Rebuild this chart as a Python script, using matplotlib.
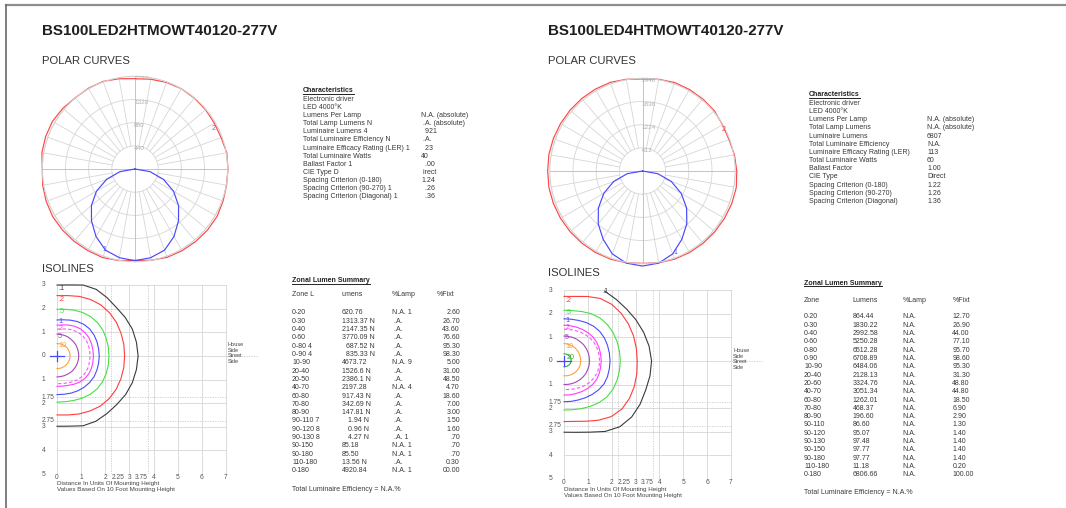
import numpy as np
import matplotlib
matplotlib.use("Agg")
import matplotlib.pyplot as plt
from matplotlib.lines import Line2D
from matplotlib.transforms import ScaledTranslation

plt.rcParams['font.family'] = ['Liberation Sans', 'DejaVu Sans']

W, H = 1066, 508

# ---------------------------------------------------------------- data
model_names = ["BS100LED2HTMOWT40120-277V", "BS100LED4HTMOWT40120-277V"]

ring_values_A = [440, 880, 1320, 1760]
ring_values_B = [612, 1224, 1836, 2448]

# candela, angle measured from nadir (0 = down, 90 = right, 180 = up)
polar_angles = [0, 10, 20, 30, 40, 50, 60, 70, 80, 90, 100, 110, 120, 130, 140, 150, 160, 170,
                180, 190, 200, 210, 220, 230, 240, 250, 260, 270, 280, 290, 300, 310, 320, 330, 340, 350]
plane2_cd_A = [1735, 1760, 1785, 1790, 1795, 1800, 1800, 1780, 1765, 1765, 1770, 1740,
               1740, 1750, 1755, 1760, 1750, 1730, 1715, 1740, 1770, 1770, 1765, 1790,
               1810, 1805, 1795, 1760, 1780, 1795, 1805, 1800, 1795, 1790, 1790, 1765]
plane2_cd_B = [2440, 2460, 2478, 2485, 2490, 2494, 2500, 2510, 2515, 2490, 2465, 2430,
               2440, 2477, 2480, 2484, 2486, 2460, 2430, 2460, 2490, 2495, 2498, 2498,
               2500, 2505, 2510, 2505, 2510, 2505, 2500, 2494, 2490, 2485, 2478, 2460]
nadir_angles = [0, 10, 20, 30, 40, 50, 60, 70, 80, 90]
plane1_cd_A = [1740, 1710, 1640, 1480, 1285, 1080, 845, 575, 290, 0]
plane1_cd_B = [2510, 2470, 2330, 2080, 1820, 1520, 1180, 810, 410, 0]

char_labels_A = ["Electronic driver", "LED 4000\u00b0K", "Lumens Per Lamp", "Total Lamp Lumens N",
                 "Luminaire Lumens 4", "Total Luminaire Efficiency N",
                 "Luminaire Efficacy Rating (LER) 1", "Total Luminaire Watts", "Ballast Factor 1",
                 "CIE Type D", "Spacing Criterion (0-180)", "Spacing Criterion (90-270) 1",
                 "Spacing Criterion (Diagonal) 1"]
char_values_A = ["", "", "N.A. (absolute)", " .A. (absolute)", "  921", " .A.", "  23", "40",
                 "  .00", " irect", "1.24", "  .26", "  .36"]
char_labels_B = ["Electronic driver", "LED 4000\u00b0K", "Lumens Per Lamp", "Total Lamp Lumens",
                 "Luminaire Lumens", "Total Luminaire Efficiency",
                 "Luminaire Efficacy Rating (LER)", "Total Luminaire Watts", "Ballast Factor",
                 "CIE Type", "Spacing Criterion (0-180)", "Spacing Criterion (90-270)",
                 "Spacing Criterion (Diagonal)"]
char_values_B = ["", "", "N.A. (absolute)", "N.A. (absolute)", "6807", "N.A.", "113", "60",
                 "1.00", "Direct", "1.22", "1.26", "1.36"]

zonal_header_A = ["Zone L", "umens", "%Lamp", "%Fixt"]
zonal_zone_A = ["0-20", "0-30", "0-40", "0-60", "0-80 4", "0-90 4", "10-90", "20-40", "20-50",
                "40-70", "60-80", "70-80", "80-90", "90-110 7", "90-120 8", "90-130 8", "90-150",
                "90-180", "110-180", "0-180"]
zonal_lumens_A = ["620.76", "1313.37 N", "2147.35 N", "3770.09 N", "  687.52 N", "  835.33 N",
                  "4673.72", "1526.6 N", "2386.1 N", "2197.28", "917.43 N", "342.69 N",
                  "147.81 N", "   1.94 N", "   0.96 N", "   4.27 N", "85.18", "85.50",
                  "13.56 N", "4920.84"]
zonal_lamp_A = ["N.A. 1", " .A.", " .A.", " .A.", " .A.", " .A.", "N.A. 9", " .A.", " .A.",
                "N.A. 4", " .A.", " .A.", " .A.", " .A.", " .A.", " .A. 1", "N.A. 1", "N.A. 1",
                " .A.", "N.A. 1"]
zonal_fixt_A = ["2.60", "26.70", "43.60", "76.60", "95.30", "98.30", "5.00", "31.00", "48.50",
                "4.70", "18.60", "7.00", "3.00", "1.50", "1.60", ".70", ".70", ".70", "0.30",
                "00.00"]

zonal_header_B = ["Zone", "Lumens", "%Lamp", "%Fixt"]
zonal_zone_B = ["0-20", "0-30", "0-40", "0-60", "0-80", "0-90", "10-90", "20-40", "20-60",
                "40-70", "60-80", "70-80", "80-90", "90-110", "90-120", "90-130", "90-150",
                "90-180", "110-180", "0-180"]
zonal_lumens_B = ["864.44", "1830.22", "2992.58", "5250.28", "6512.28", "6708.89", "6484.06",
                  "2128.13", "3324.76", "3051.34", "1262.01", "468.37", "196.60", "86.60",
                  "95.07", "97.48", "97.77", "97.77", "11.18", "6806.66"]
zonal_lamp_B = ["N.A."] * 20
zonal_fixt_B = ["12.70", "26.90", "44.00", "77.10", "95.70", "98.60", "95.30", "31.30", "48.80",
                "44.80", "18.50", "6.90", "2.90", "1.30", "1.40", "1.40", "1.40", "1.40", "0.20",
                "100.00"]

# isofootcandle contours: radius (mounting heights) at each direction (deg, 90 = house side)
iso_angles = [90, 80, 70, 60, 50, 40, 30, 20, 10, 0, -10, -20, -30, -40, -50, -60, -70, -80, -90]
iso_levels_A = [".1", ".2", ".5", "1", "2", "", "5", "10"]
iso_radii_A = [
    [3.00, 3.05, 3.19, 3.25, 3.22, 3.20, 3.26, 3.32, 3.34, 3.36, 3.34, 3.32, 3.28, 3.22, 3.20, 3.20, 3.15, 3.02, 2.98],
    [2.55, 2.59, 2.68, 2.76, 2.82, 2.84, 2.84, 2.82, 2.81, 2.80, 2.81, 2.82, 2.83, 2.82, 2.78, 2.70, 2.62, 2.54, 2.50],
    [1.97, 2.00, 2.06, 2.12, 2.17, 2.19, 2.19, 2.17, 2.16, 2.15, 2.16, 2.17, 2.18, 2.17, 2.13, 2.07, 2.01, 1.97, 1.96],
    [1.52, 1.55, 1.61, 1.68, 1.74, 1.77, 1.77, 1.76, 1.75, 1.75, 1.75, 1.76, 1.77, 1.76, 1.74, 1.71, 1.68, 1.65, 1.64],
    [1.30, 1.33, 1.39, 1.45, 1.50, 1.52, 1.53, 1.52, 1.51, 1.51, 1.51, 1.52, 1.52, 1.50, 1.45, 1.39, 1.33, 1.30, 1.29],
    [1.13, 1.16, 1.21, 1.27, 1.32, 1.36, 1.38, 1.38, 1.37, 1.37, 1.37, 1.38, 1.38, 1.36, 1.32, 1.27, 1.22, 1.19, 1.18],
    [0.92, 0.92, 0.92, 0.92, 0.91, 0.91, 0.91, 0.90, 0.90, 0.90, 0.90, 0.90, 0.90, 0.90, 0.90, 0.89, 0.89, 0.89, 0.89],
    [0.52, 0.52, 0.53, 0.53, 0.53, 0.54, 0.54, 0.54, 0.54, 0.54, 0.54, 0.54, 0.54, 0.54, 0.54, 0.54, 0.54, 0.54, 0.54],
]
iso_levels_B = [".1", ".2", ".5", "1", "2", "", "5", "10", "20"]
nan = float("nan")
iso_radii_B = [
    [nan, nan, nan, 3.41, 3.40, 3.42, 3.48, 3.55, 3.62, 3.67, 3.66, 3.64, 3.68, 3.70, 3.64, 3.45, 3.21, 3.07, 3.02],
    [2.73, 2.77, 2.90, 3.05, 3.12, 3.13, 3.12, 3.10, 3.08, 3.07, 3.10, 3.14, 3.17, 3.17, 3.08, 2.90, 2.72, 2.60, 2.57],
    [2.14, 2.16, 2.22, 2.30, 2.36, 2.38, 2.38, 2.37, 2.36, 2.36, 2.36, 2.37, 2.38, 2.36, 2.30, 2.22, 2.15, 2.10, 2.08],
    [1.78, 1.79, 1.82, 1.87, 1.92, 1.95, 1.95, 1.94, 1.93, 1.93, 1.93, 1.94, 1.94, 1.90, 1.85, 1.80, 1.76, 1.74, 1.73],
    [1.51, 1.51, 1.52, 1.54, 1.56, 1.58, 1.58, 1.57, 1.56, 1.56, 1.56, 1.57, 1.58, 1.56, 1.53, 1.50, 1.47, 1.46, 1.45],
    [1.34, 1.35, 1.37, 1.40, 1.43, 1.46, 1.48, 1.49, 1.49, 1.49, 1.49, 1.48, 1.45, 1.41, 1.36, 1.31, 1.26, 1.23, 1.21],
    [1.05, 1.05, 1.06, 1.06, 1.06, 1.07, 1.07, 1.07, 1.07, 1.07, 1.07, 1.06, 1.06, 1.05, 1.04, 1.03, 1.02, 1.01, 1.00],
    [0.73, 0.73, 0.72, 0.72, 0.72, 0.71, 0.71, 0.70, 0.70, 0.70, 0.70, 0.70, 0.69, 0.68, 0.67, 0.66, 0.65, 0.64, 0.63],
    [0.30, 0.30, 0.30, 0.30, 0.30, 0.30, 0.30, 0.30, 0.30, 0.30, 0.29, 0.29, 0.28, 0.27, 0.26, 0.26, 0.25, 0.25, 0.25],
]

x_ticks = [0, 1, 2, 2.25, 3, 3.75, 4, 5, 6, 7]
x_tick_labels = ["0", "1", "2", "2.25", "3", "3.75", "4", "5", "6", "7"]
y_ticks = [3, 2, 1, 0, -1, -1.75, -2, -2.75, -3, -4, -5]
y_tick_labels = ["3", "2", "1", "0", "1", "1.75", "2", "2.75", "3", "4", "5"]

# ---------------------------------------------------------------- styles
ISO_COLORS_A = ["#3a3a3a", "#ff3c3c", "#44e044", "#4b4bff", "#ff3cff", "#ff50ff", "#a44ab4", "#ffa040"]
ISO_COLORS_B = ISO_COLORS_A + ["#2fb02f"]
ISO_STYLES_B = ["-", "-", "-", "-", "-", (0, (3, 2)), "-", "-", "-"]
ISO_STYLES_A = ISO_STYLES_B[:8]
RED = "#ff4545"
BLUE = "#4848ff"
GRID = "#d6d6d6"
TXT = "#383838"

fig = plt.figure(figsize=(W / 100, H / 100), dpi=100)
fig.patch.set_facecolor("white")


def px_box(l, t, r, b):
    return [l / W, 1 - b / H, (r - l) / W, (b - t) / H]


def ftext(x, y, s, size=5.0, color=TXT, ha="left", va="center", **kw):
    return fig.text(x / W, 1 - y / H, s, fontsize=size, color=color, ha=ha, va=va, **kw)


underlined = []

# page frame
fig.add_artist(Line2D([6 / W, 1], [1 - 4.5 / H] * 2, color="#8e8e8e", lw=1.6))
fig.add_artist(Line2D([6 / W] * 2, [0, 1 - 4.5 / H], color="#6a6a6a", lw=1.2))


def draw_polar(cx, cy, rad, rings, plane2, plane1, lbl2, lbl1):
    ax = fig.add_axes(px_box(cx - rad, cy - rad, cx + rad, cy + rad), projection="polar")
    ax.set_theta_zero_location("S")
    ax.set_theta_direction(1)
    rmax = rings[-1]
    ax.set_ylim(0, rmax)
    ax.set_xticks([])
    ax.set_yticks([])
    ax.grid(False)
    ax.spines["polar"].set_color("#d0d0d0")
    ax.spines["polar"].set_linewidth(0.8)
    full = np.linspace(0, 2 * np.pi, 721)
    for r in rings[:-1]:
        ax.plot(full, np.full_like(full, r), color=GRID, lw=0.6)
    for d in range(0, 360, 10):
        t = np.deg2rad(d)
        if d % 90 == 0:
            ax.plot([t, t], [0, rmax], color="#c4c4c4", lw=0.7)
        else:
            ax.plot([t, t], [rings[0], rmax], color=GRID, lw=0.6)
    off = ScaledTranslation(-1 / 100, -2.6 / 100, fig.dpi_scale_trans)
    for r in rings:
        ax.text(np.pi, r, str(r), transform=ax.transData + off, fontsize=4.6,
                color="#b0b0b0", ha="left", va="center")
    th = np.deg2rad(polar_angles + [360])
    ax.plot(th, plane2 + [plane2[0]], color=RED, lw=0.85, clip_on=False)
    a1 = [-a for a in nadir_angles[::-1]] + nadir_angles[1:]
    r1 = plane1[::-1] + plane1[1:]
    ax.plot(np.deg2rad(a1), r1, color=BLUE, lw=0.85, clip_on=False)
    ax.text(np.deg2rad(lbl2[0]), lbl2[1] * rmax, "2", color=RED, fontsize=5, ha="center", va="center")
    ax.text(np.deg2rad(lbl1[0]), lbl1[1] * rmax, "1", color=BLUE, fontsize=5, ha="center", va="center")


def draw_iso(l, t, r, b, radii, levels, colors, styles, label_pos, side_y, cap_y):
    ax = fig.add_axes(px_box(l, t, r, b))
    ax.set_xlim(0, 7)
    ax.set_ylim(-5, 3)
    ax.axis("off")
    for x in range(0, 8):
        ax.plot([x, x], [-5, 3], color=GRID, lw=0.6, clip_on=False)
    for y in [3, 2, 1, 0, -1, -2, -3, -4]:
        ax.plot([0, 7], [y, y], color=GRID, lw=0.6, clip_on=False)
    for x in [2.25, 3.75]:
        ax.plot([x, x], [-5, 3], color="#c8c8c8", lw=0.6, ls=(0, (1.5, 1.5)))
    for y in [-1.75, -2.75]:
        ax.plot([0, 7], [y, y], color="#c8c8c8", lw=0.6, ls=(0, (1.5, 1.5)))
    ax.plot([7, 8.3], [0, 0], color="#c8c8c8", lw=0.6, ls=(0, (1.5, 1.5)), clip_on=False)
    ang = np.deg2rad(iso_angles)
    for rr, c, st in zip(radii, colors, styles):
        rr = np.array(rr)
        ax.plot(rr * np.cos(ang), rr * np.sin(ang), color=c, lw=0.8, ls=st, clip_on=False)
    for (px, py), lev, c in zip(label_pos, levels, colors):
        if lev:
            ax.text(px, py, lev, color=c, fontsize=5.2, ha="left", va="center")
    ax.plot([-0.3, 0.3], [0, 0], color=BLUE, lw=0.9, clip_on=False)
    ax.plot([0, 0], [-0.22, 0.22], color=BLUE, lw=0.9, clip_on=False)
    for xv, s in zip(x_ticks, x_tick_labels):
        ha = "left" if s == "2.25" else ("right" if s == "3.75" else "center")
        ax.text(xv, -5.14, s, fontsize=4.8, color="#555555", ha=ha, va="center", clip_on=False)
    for yv, s in zip(y_ticks, y_tick_labels):
        ax.text(-0.63, yv, s, fontsize=4.8, color="#555555", ha="left", va="center", clip_on=False)
    for i, s in enumerate(["House", "Side", "Street", "Side"]):
        ftext(r + 2, side_y + i * 5.4, s, size=4.0, color="#444444")
    ftext(l, cap_y, "Distance In Units Of Mounting Height", size=4.5, color="#444444")
    ftext(l, cap_y + 6.4, "Values Based On 10 Foot Mounting Height", size=4.5, color="#444444")


def draw_characteristics(x, xv, y0, dy, labels, values):
    t = ftext(x, y0, "Characteristics", size=5.0, color="#222222", weight="bold")
    underlined.append(t)
    for i, (a, v) in enumerate(zip(labels, values)):
        y = y0 + (i + 1) * dy
        ftext(x, y, a)
        if v:
            ftext(xv, y, v)


def draw_zonal(x, cols, y_title, y_head, y0, dy, y_foot, header, zone, lum, lamp, fixt, fixt_right):
    # cols: lumens x, %lamp x, %fixt header x, %fixt value anchor x
    t = ftext(x, y_title, "Zonal Lumen Summary", size=5.0, color="#222222", weight="bold")
    underlined.append(t)
    for cx, h in zip([x] + cols[:3], header):
        ftext(cx, y_head, h)
    for i in range(len(zone)):
        y = y0 + i * dy
        ftext(x, y, zone[i])
        ftext(cols[0], y, lum[i])
        ftext(cols[1], y, lamp[i])
        ftext(cols[3], y, fixt[i], ha="right" if fixt_right else "left")
    ftext(x, y_foot, "Total Luminaire Efficiency = N.A.%")


# ---------------------------------------------------------------- left sheet
ftext(42, 31, model_names[0], size=10.9, color="#1e1e1e", weight="bold")
ftext(42, 60.5, "POLAR CURVES", size=8.1, color="#333333")
draw_polar(135, 169, 92.7, ring_values_A, plane2_cd_A, plane1_cd_A, (117, 0.957), (339, 0.933))
draw_characteristics(303, 421, 91, 8.15, char_labels_A, char_values_A)
ftext(42, 269, "ISOLINES", size=8.1, color="#333333")
draw_iso(57, 285, 226, 474, iso_radii_A, iso_levels_A, ISO_COLORS_A, ISO_STYLES_A,
         [(0.05, 2.85), (0.05, 2.37), (0.05, 1.88), (0.05, 1.46), (0.05, 1.14), (0, 0),
          (0.05, 0.80), (0.05, 0.42)], 345, 483.5)
draw_zonal(292, [342, 392, 437, 460], 280.7, 294, 312.7, 8.33, 489.3, zonal_header_A,
           zonal_zone_A, zonal_lumens_A, zonal_lamp_A, zonal_fixt_A, True)

# ---------------------------------------------------------------- right sheet
ftext(548, 31, model_names[1], size=10.9, color="#1e1e1e", weight="bold")
ftext(548, 60.5, "POLAR CURVES", size=8.1, color="#333333")
draw_polar(642.5, 171, 92.7, ring_values_B, plane2_cd_B, plane1_cd_B, (117, 0.98), (22, 0.952))
draw_characteristics(809, 927, 95, 8.2, char_labels_B, char_values_B)
ftext(548, 273, "ISOLINES", size=8.1, color="#333333")
draw_iso(564, 290, 731, 479, iso_radii_B, iso_levels_B, ISO_COLORS_B, ISO_STYLES_B,
         [(1.62, 2.92), (0.05, 2.54), (0.05, 2.05), (0.05, 1.70), (0.05, 1.41), (0, 0),
          (0.05, 1.0), (0.05, 0.62), (0.1, 0.16)], 351, 489)
draw_zonal(804, [852.7, 902.7, 952.3, 952.3], 283.3, 300, 316.7, 8.33, 492.3, zonal_header_B,
           zonal_zone_B, zonal_lumens_B, zonal_lamp_B, zonal_fixt_B, False)

# underline the bold table headings
fig.canvas.draw()
rend = fig.canvas.get_renderer()
for t in underlined:
    bb = t.get_window_extent(rend)
    yb = bb.y0 + 0.6
    fig.add_artist(Line2D([bb.x0 / W, bb.x1 / W], [yb / H, yb / H], color="#222222", lw=0.7))

fig.savefig("out.png", dpi=100, facecolor="white")
